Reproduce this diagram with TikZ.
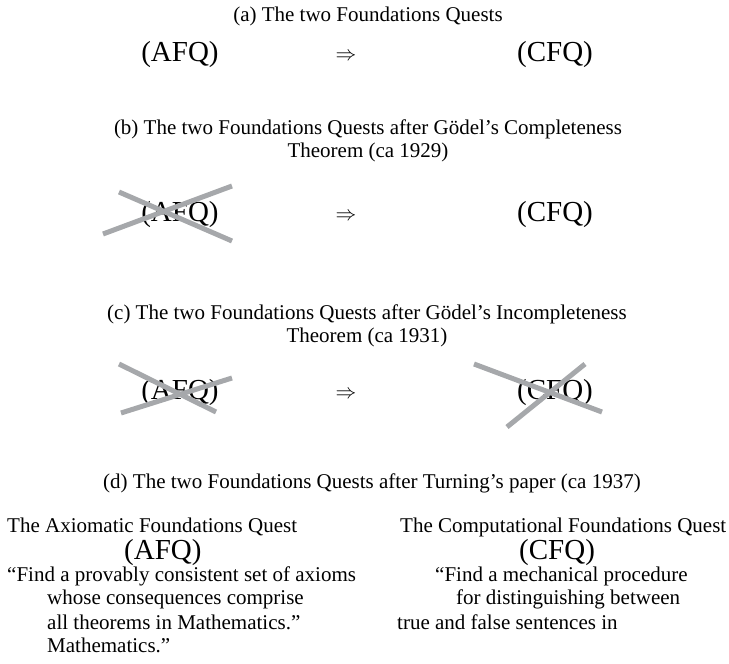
\documentclass[tikz,border=0pt]{standalone}
\usepackage{fontspec}
\setmainfont{Liberation Serif}
\usepackage{tikz}
\usetikzlibrary{positioning}

\definecolor{strikegray}{RGB}{166,168,171}

\tikzset{
  captiontext/.style={font=\fontsize{21}{23}\selectfont, align=center, inner sep=0pt},
  quest/.style={font=\fontsize{29}{32}\selectfont, inner sep=0pt},
  implies/.style={font=\fontsize{20.74}{22}\selectfont, inner sep=0pt},
  textline/.style={font=\fontsize{21}{23}\selectfont, anchor=west, inner sep=0pt},
  strikeout/.style={draw=strikegray, line width=5pt},
}

\begin{document}
\begin{tikzpicture}[x=1pt, y=-1pt]
        \useasboundingbox (0,0) rectangle (729,664);

        %% (a) the two quests
        \node (capA) [captiontext] at (368,16) {(a) The two Foundations Quests};
        \node (afqA) [quest] at (180,55) {(AFQ)};
        \node (impA) [implies] at (346,57) {$\Rightarrow$};
        \node (cfqA) [quest] at (555,55) {(CFQ)};

        %% (b) after completeness
        \node (capB) [captiontext] at (368,141) {(b) The two Foundations Quests after Gödel’s Completeness\\Theorem (ca 1929)};
        \node (afqB) [quest] at (180,215) {(AFQ)};
        \node (impB) [implies] at (346,217) {$\Rightarrow$};
        \node (cfqB) [quest] at (555,215) {(CFQ)};
        \draw [strikeout] (103,234) -- (232,186);
        \draw [strikeout] (119,192) -- (232,241);

        %% (c) after incompleteness
        \node (capC) [captiontext] at (367,326) {(c) The two Foundations Quests after Gödel’s Incompleteness\\Theorem (ca 1931)};
        \node (afqC) [quest] at (180,393) {(AFQ)};
        \node (impC) [implies] at (346,395) {$\Rightarrow$};
        \node (cfqC) [quest] at (555,393) {(CFQ)};
        \draw [strikeout] (119,364) -- (216,412);
        \draw [strikeout] (121,413) -- (232,378);
        \draw [strikeout] (474,364) -- (602,412);
        \draw [strikeout] (507,427) -- (585,364);

        %% (d) after Turing
        \node (capD) [captiontext] at (372,483) {(d) The two Foundations Quests after Turning’s paper (ca 1937)};

        %% left column
        \node (headAFQ) [textline] at (7,527) {The Axiomatic Foundations Quest};
        \node (afqD) [quest, anchor=west] at (124,553) {(AFQ)};
        \node (afqLineA) [textline] at (7,576) {“Find a provably consistent set of axioms};
        \node (afqLineB) [textline] at (47,599) {whose consequences comprise};
        \node (afqLineC) [textline] at (47,622) {all theorems in Mathematics.”};
        \node (afqLineD) [textline] at (47,645) {Mathematics.”};

        %% right column
        \node (headCFQ) [textline] at (400,527) {The Computational Foundations Quest};
        \node (cfqD) [quest, anchor=west] at (519,553) {(CFQ)};
        \node (cfqLineA) [textline] at (435,576) {“Find a mechanical procedure};
        \node (cfqLineB) [textline] at (456,599) {for distinguishing between};
        \node (cfqLineC) [textline] at (397,622) {true and false sentences in};

\end{tikzpicture}
\end{document}
